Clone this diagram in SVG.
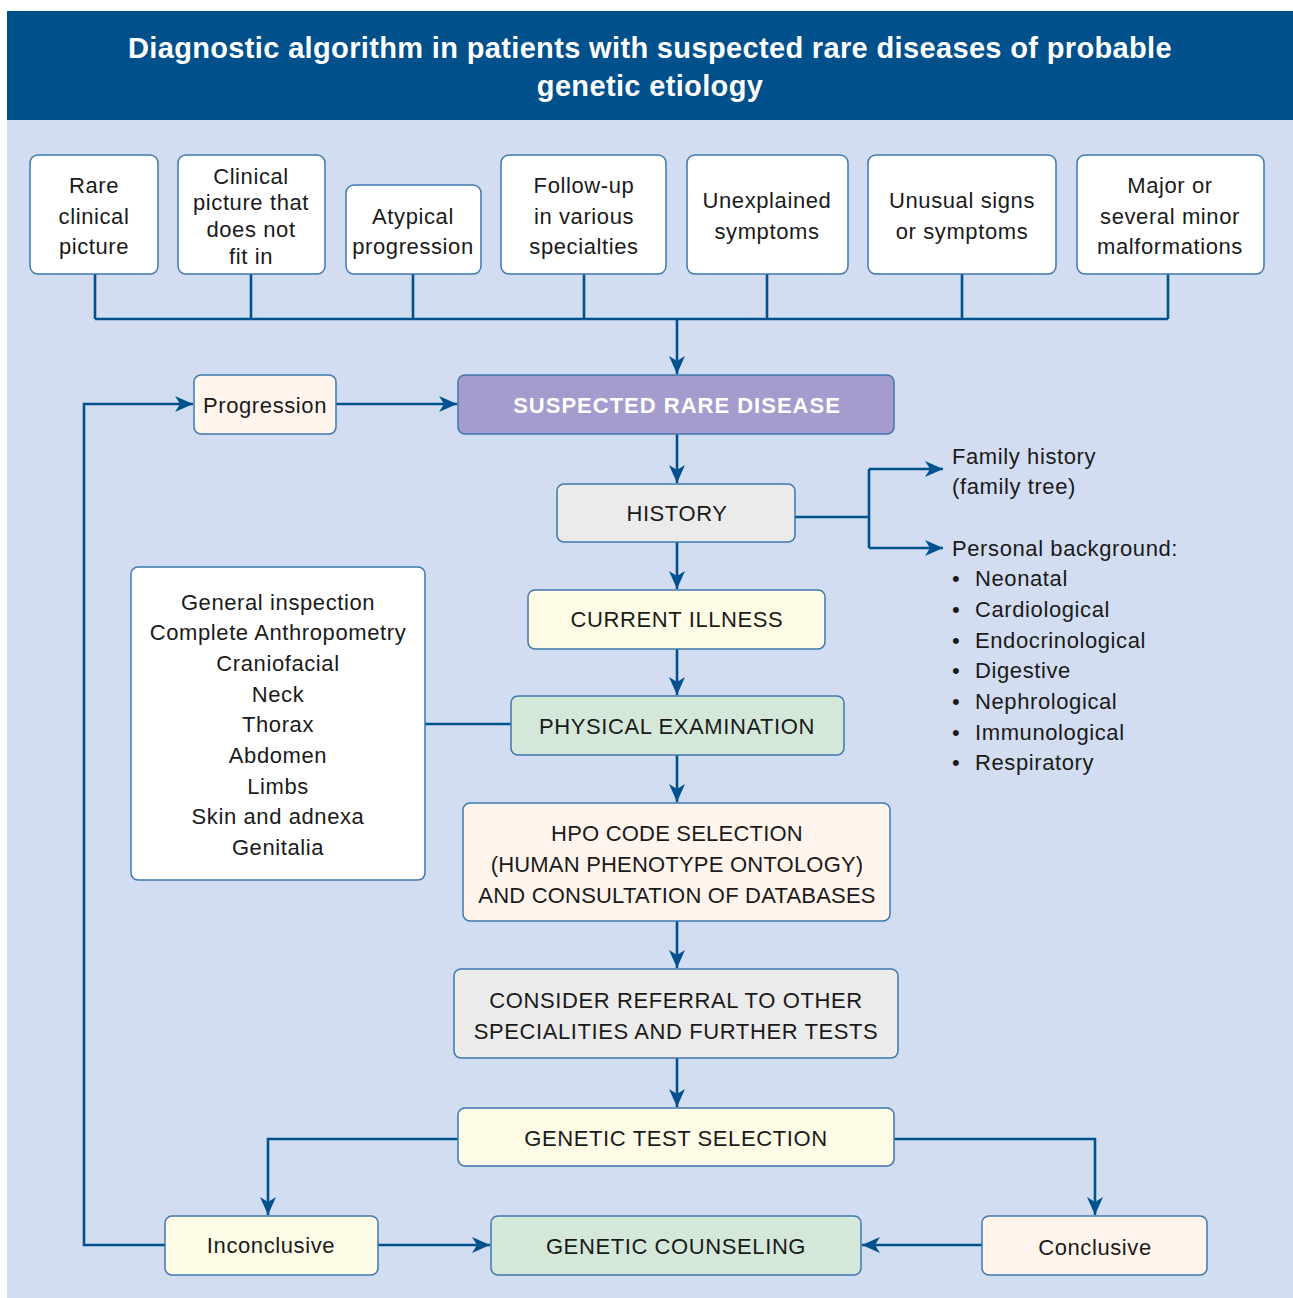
<svg xmlns="http://www.w3.org/2000/svg" width="1293" height="1298" viewBox="0 0 1293 1298">
<defs>
<marker id="ah" markerUnits="userSpaceOnUse" markerWidth="20" markerHeight="16" refX="18" refY="8" orient="auto">
<path d="M0,0 L18,8 L0,16 L5,8 Z" fill="#00528F"/>
</marker>
<style>
.n{stroke:#3D78AE;stroke-width:1.5}
.t{font-family:"Liberation Sans",Arial,sans-serif;font-size:22px;fill:#1a1a1a;text-anchor:middle;letter-spacing:0.6px}
.l{font-family:"Liberation Sans",Arial,sans-serif;font-size:22px;fill:#1a1a1a;letter-spacing:0.6px}
.c{fill:none;stroke:#00528F;stroke-width:2.6}
</style>
</defs>
<rect x="0" y="0" width="1293" height="1298" fill="#ffffff"/>
<rect x="7" y="120" width="1286" height="1178" fill="#D2DDF1"/>
<g id="header">
<rect x="7" y="11" width="1286" height="109" fill="#00508C"/>
<text x="650" y="58" font-family="Liberation Sans,Arial,sans-serif" font-size="29" font-weight="bold" fill="#ffffff" text-anchor="middle" letter-spacing="0.35">Diagnostic algorithm in patients with suspected rare diseases of probable</text>
<text x="650" y="96" font-family="Liberation Sans,Arial,sans-serif" font-size="29" font-weight="bold" fill="#ffffff" text-anchor="middle" letter-spacing="0.35">genetic etiology</text>
</g>
<g id="connectors">
<path class="c" d="M95,274 V319 M251,274 V319 M413,274 V319 M584,274 V319 M767,274 V319 M962,274 V319 M1168,274 V319 M95,319 H1168"/>
<path class="c" d="M677,319 V374" marker-end="url(#ah)"/>
<path class="c" d="M336,404 H457" marker-end="url(#ah)"/>
<path class="c" d="M677,434 V483" marker-end="url(#ah)"/>
<path class="c" d="M795,517 H869 M869,469 V548"/>
<path class="c" d="M869,469 H943" marker-end="url(#ah)"/>
<path class="c" d="M869,548 H943" marker-end="url(#ah)"/>
<path class="c" d="M677,542 V589" marker-end="url(#ah)"/>
<path class="c" d="M677,649 V695" marker-end="url(#ah)"/>
<path class="c" d="M425,724 H511"/>
<path class="c" d="M677,755 V802" marker-end="url(#ah)"/>
<path class="c" d="M677,921 V968" marker-end="url(#ah)"/>
<path class="c" d="M677,1058 V1107" marker-end="url(#ah)"/>
<path class="c" d="M458,1139 H268 V1215" marker-end="url(#ah)"/>
<path class="c" d="M894,1139 H1095 V1215" marker-end="url(#ah)"/>
<path class="c" d="M378,1245 H490" marker-end="url(#ah)"/>
<path class="c" d="M982,1245 H862" marker-end="url(#ah)"/>
<path class="c" d="M165,1245 H84 V404 H193" marker-end="url(#ah)"/>
</g>
<g id="n1"><rect class="n" x="30" y="155" width="128" height="119" rx="8" fill="#fff"/>
<text class="t" x="94" y="193">Rare</text><text class="t" x="94" y="224">clinical</text><text class="t" x="94" y="254">picture</text></g>
<g id="n2"><rect class="n" x="178" y="155" width="147" height="119" rx="8" fill="#fff"/>
<text class="t" x="251" y="184">Clinical</text><text class="t" x="251" y="210">picture that</text><text class="t" x="251" y="237">does not</text><text class="t" x="251" y="264">fit in</text></g>
<g id="n3"><rect class="n" x="346" y="185" width="135" height="89" rx="8" fill="#fff"/>
<text class="t" x="413" y="224">Atypical</text><text class="t" x="413" y="254">progression</text></g>
<g id="n4"><rect class="n" x="501" y="155" width="165" height="119" rx="8" fill="#fff"/>
<text class="t" x="584" y="193">Follow-up</text><text class="t" x="584" y="224">in various</text><text class="t" x="584" y="254">specialties</text></g>
<g id="n5"><rect class="n" x="687" y="155" width="161" height="119" rx="8" fill="#fff"/>
<text class="t" x="767" y="208">Unexplained</text><text class="t" x="767" y="239">symptoms</text></g>
<g id="n6"><rect class="n" x="868" y="155" width="188" height="119" rx="8" fill="#fff"/>
<text class="t" x="962" y="208">Unusual signs</text><text class="t" x="962" y="239">or symptoms</text></g>
<g id="n7"><rect class="n" x="1077" y="155" width="187" height="119" rx="8" fill="#fff"/>
<text class="t" x="1170" y="193">Major or</text><text class="t" x="1170" y="224">several minor</text><text class="t" x="1170" y="254">malformations</text></g>
<g id="progression"><rect class="n" x="194" y="375" width="142" height="59" rx="7" fill="#FFF5EC"/>
<text class="t" x="265" y="413">Progression</text></g>
<g id="suspected"><rect class="n" x="458" y="375" width="436" height="59" rx="7" fill="#A59BCD"/>
<text x="677" y="413" font-family="Liberation Sans,Arial,sans-serif" font-size="22" font-weight="bold" fill="#ffffff" text-anchor="middle" letter-spacing="1">SUSPECTED RARE DISEASE</text></g>
<g id="history"><rect class="n" x="557" y="484" width="238" height="58" rx="7" fill="#EBEBEB"/>
<text class="t" x="677" y="521">HISTORY</text></g>
<g id="history-notes">
<text class="l" x="952" y="464">Family history</text>
<text class="l" x="952" y="494">(family tree)</text>
<text class="l" x="952" y="556">Personal background:</text>
<text class="l" x="952" y="586">•</text><text class="l" x="975" y="586">Neonatal</text>
<text class="l" x="952" y="617">•</text><text class="l" x="975" y="617">Cardiological</text>
<text class="l" x="952" y="648">•</text><text class="l" x="975" y="648">Endocrinological</text>
<text class="l" x="952" y="678">•</text><text class="l" x="975" y="678">Digestive</text>
<text class="l" x="952" y="709">•</text><text class="l" x="975" y="709">Nephrological</text>
<text class="l" x="952" y="740">•</text><text class="l" x="975" y="740">Immunological</text>
<text class="l" x="952" y="770">•</text><text class="l" x="975" y="770">Respiratory</text>
</g>
<g id="current"><rect class="n" x="528" y="590" width="297" height="59" rx="7" fill="#FEFCE6"/>
<text class="t" x="677" y="627">CURRENT ILLNESS</text></g>
<g id="exam-list"><rect class="n" x="131" y="567" width="294" height="313" rx="7" fill="#fff"/>
<text class="t" x="278" y="610">General inspection</text>
<text class="t" x="278" y="640">Complete Anthropometry</text>
<text class="t" x="278" y="671">Craniofacial</text>
<text class="t" x="278" y="702">Neck</text>
<text class="t" x="278" y="732">Thorax</text>
<text class="t" x="278" y="763">Abdomen</text>
<text class="t" x="278" y="794">Limbs</text>
<text class="t" x="278" y="824">Skin and adnexa</text>
<text class="t" x="278" y="855">Genitalia</text></g>
<g id="physical"><rect class="n" x="511" y="696" width="333" height="59" rx="7" fill="#D4E8DA"/>
<text class="t" x="677" y="734">PHYSICAL EXAMINATION</text></g>
<g id="hpo"><rect class="n" x="463" y="803" width="427" height="118" rx="7" fill="#FFF5EC"/>
<text class="t" x="677" y="841" style="letter-spacing:0.2px">HPO CODE SELECTION</text>
<text class="t" x="677" y="872" style="letter-spacing:0.2px">(HUMAN PHENOTYPE ONTOLOGY)</text>
<text class="t" x="677" y="903" style="letter-spacing:0.2px">AND CONSULTATION OF DATABASES</text></g>
<g id="referral"><rect class="n" x="454" y="969" width="444" height="89" rx="7" fill="#EBEBEB"/>
<text class="t" x="676" y="1008">CONSIDER REFERRAL TO OTHER</text>
<text class="t" x="676" y="1039">SPECIALITIES AND FURTHER TESTS</text></g>
<g id="genetic-test"><rect class="n" x="458" y="1108" width="436" height="58" rx="7" fill="#FEFCE6"/>
<text class="t" x="676" y="1146">GENETIC TEST SELECTION</text></g>
<g id="inconclusive"><rect class="n" x="165" y="1216" width="213" height="59" rx="7" fill="#FEFCE6"/>
<text class="t" x="271" y="1253">Inconclusive</text></g>
<g id="counseling"><rect class="n" x="491" y="1216" width="370" height="59" rx="7" fill="#D4E8DA"/>
<text class="t" x="676" y="1254">GENETIC COUNSELING</text></g>
<g id="conclusive"><rect class="n" x="982" y="1216" width="225" height="59" rx="7" fill="#FFF5EC"/>
<text class="t" x="1095" y="1255">Conclusive</text></g>
</svg>
